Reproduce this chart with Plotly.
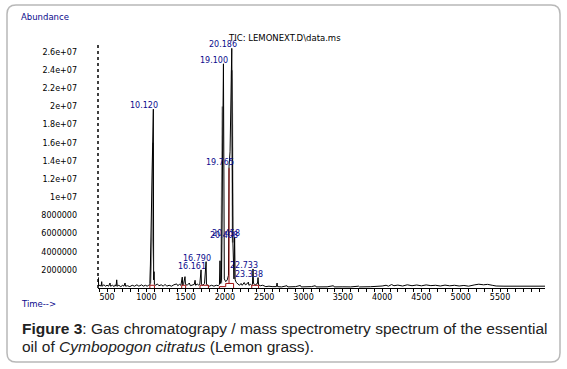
import plotly.graph_objects as go

# ---------------- data (scan number, abundance in millions) ----------------
scan = [385, 389, 393, 410, 425, 432, 437, 460, 480, 500, 520, 538, 544, 570, 590, 605, 615, 623, 630,
        650, 675, 700, 715, 729, 736, 760, 790, 820, 850, 880, 905, 941, 960, 990, 1010, 1030,
        1047, 1089, 1093, 1098, 1103, 1120, 1140, 1160, 1190, 1215, 1238, 1260, 1290, 1320, 1350,
        1386, 1400, 1420, 1440, 1457, 1463, 1475, 1492, 1498, 1520, 1547, 1560, 1590, 1610, 1620,
        1627, 1650, 1665, 1680, 1696, 1701, 1720, 1740, 1760, 1765, 1780, 1800, 1830, 1860, 1890,
        1915, 1930, 1937, 1942, 1955, 1981, 1992, 2010, 2030, 2045, 2052, 2065, 2087, 2100, 2106,
        2115, 2123, 2130, 2145, 2165, 2185, 2205, 2220, 2245, 2260, 2280, 2298, 2305, 2325, 2340,
        2350, 2357, 2363, 2375, 2390, 2405, 2414, 2421, 2428, 2450, 2480, 2520, 2560, 2600, 2640,
        2655, 2663, 2670, 2720, 2790, 2800, 2900, 2960, 2970, 3100, 3150, 3160, 3300, 3380, 3390,
        3500, 3600, 3700, 3710, 3850, 3950, 4000, 4050, 4080, 4120, 4150, 4200, 4260, 4320, 4380,
        4440, 4500, 4560, 4620, 4680, 4740, 4800, 4860, 4920, 4980, 5040, 5100, 5180, 5230, 5290,
        5340, 5400, 5450, 5550, 5700, 5850, 6000, 6072]
abund = [0.2, 1.15, 0.25, 0.3, 0.2, 0.7, 0.2, 0.35, 0.2, 0.3, 0.2, 0.55, 0.2, 0.3, 0.15, 0.35, 0.2, 0.9, 0.2,
         0.3, 0.15, 0.3, 0.2, 0.55, 0.2, 0.25, 0.15, 0.3, 0.2, 0.35, 0.2, 0.35, 0.2, 0.3, 0.2, 0.3,
         0.35, 19.7, 0.9, 1.8, 0.4, 0.3, 0.45, 0.25, 0.35, 0.2, 0.4, 0.2, 0.3, 0.2, 0.35,
         0.45, 0.25, 0.4, 0.3, 1.2, 0.3, 0.5, 1.25, 0.4, 0.3, 0.55, 0.25, 0.35, 0.4, 0.85,
         0.3, 0.45, 0.3, 0.4, 2.0, 0.4, 0.3, 0.5, 2.9, 0.4, 0.3, 0.2, 0.3, 0.2, 0.3,
         0.25, 0.4, 3.0, 0.5, 0.8, 24.7, 1.0, 0.7, 0.9, 1.4, 13.4, 15.0, 26.4, 5.4, 1.2,
         1.0, 5.6, 0.9, 0.6, 0.4, 0.3, 0.5, 0.3, 0.6, 0.35, 0.45, 0.65, 0.3, 0.4, 0.3,
         0.4, 2.1, 0.5, 0.45, 0.3, 0.5, 0.5, 1.15, 0.35, 0.25, 0.3, 0.15, 0.2, 0.15, 0.2,
         0.15, 0.55, 0.15, 0.12, 0.25, 0.12, 0.15, 0.28, 0.12, 0.15, 0.25, 0.12, 0.13, 0.25, 0.12,
         0.13, 0.12, 0.2, 0.12, 0.14, 0.16, 0.22, 0.3, 0.2, 0.38, 0.25, 0.32, 0.22, 0.35, 0.25,
         0.33, 0.24, 0.34, 0.26, 0.3, 0.22, 0.32, 0.24, 0.3, 0.22, 0.28, 0.2, 0.35, 0.42, 0.35,
         0.4, 0.3, 0.22, 0.2, 0.22, 0.2, 0.2, 0.2]

# grey flank overlays of the major peaks
flank_scan = [1050, 1075, 1085, None, 1952, 1962, 1970, None, 2088, 2096, 2100]
flank_abund = [0.5, 6.0, 16.0, None, 0.5, 12.0, 20.0, None, 24.0, 12.0, 5.0]

# red integration markers
integ_scan = [1045, 1045, 1103, 1103, None, 1450, 1450, 1500, 1500, None, 1683, 1683, 1790, 1790, None,
              1929, 1929, 2010, 2010, 2110, 2110, None, 2052, 2052, None, 2341, 2341, 2428, 2428]
integ_abund = [0.0, 0.3, 0.3, 0.0, None, 0.0, 0.3, 0.3, 0.0, None, 0.0, 0.3, 0.3, 0.0, None,
               0.0, 0.15, 0.15, 0.5, 0.5, 0.0, None, 0.5, 13.2, None, 0.0, 0.3, 0.3, 0.0]

# peak labels (retention time, min)
peak_labels = ["10.120", "16.161", "16.790", "19.100", "19.765", "20.186", "20.408", "20.458", "22.733", "23.338"]
peak_scan = [1089, 1696, 1760, 1981, 2052, 2087, 2100, 2123, 2357, 2421]
peak_abund = [19.7, 2.0, 2.9, 24.7, 13.4, 26.4, 5.4, 5.6, 2.1, 1.15]

x_ticks = [500, 1000, 1500, 2000, 2500, 3000, 3500, 4000, 4500, 5000, 5500]
y_ticks = [2e6, 4e6, 6e6, 8e6, 1e7, 1.2e7, 1.4e7, 1.6e7, 1.8e7, 2e7, 2.2e7, 2.4e7, 2.6e7]
y_tick_text = ["2000000", "4000000", "6000000", "8000000", "1e+07", "1.2e+07", "1.4e+07",
               "1.6e+07", "1.8e+07", "2e+07", "2.2e+07", "2.4e+07", "2.6e+07"]

M = 1e6
def scale(v):
    return [None if a is None else a * M for a in v]

# ---------------- geometry helpers (layout only) ----------------
W, H = 567, 369
L, R, T, B = 98, 22, 42, 81
PW, PH = W - L - R, H - T - B
def px(x):
    return (x - L) / PW
def py(y):
    return (H - B - y) / PH

SMALL = "DejaVu Sans"
NAVY = "#0a0a8c"

fig = go.Figure()
fig.add_trace(go.Scatter(x=flank_scan, y=scale(flank_abund), mode="lines",
                         line=dict(color="#8c8c8c", width=2), hoverinfo="skip", showlegend=False))
fig.add_trace(go.Scatter(x=scan, y=scale(abund), mode="lines",
                         line=dict(color="black", width=1), showlegend=False))
fig.add_trace(go.Scatter(x=integ_scan, y=scale(integ_abund), mode="lines",
                         line=dict(color="#a01010", width=1), hoverinfo="skip", showlegend=False))

for lab, xs, ys in zip(peak_labels, peak_scan, peak_abund):
    fig.add_annotation(x=xs, y=ys * M, text=lab, showarrow=False, xanchor="right", yanchor="bottom",
                       xshift=6, yshift=-2, borderpad=0, font=dict(family=SMALL, size=8, color=NAVY))

fig.add_annotation(xref="paper", yref="paper", x=px(227), y=py(38), text="TIC: LEMONEXT.D\\data.ms",
                   showarrow=False, xanchor="left", yanchor="middle", borderpad=0,
                   font=dict(family=SMALL, size=8.5, color="black"))
fig.add_annotation(xref="paper", yref="paper", x=px(20), y=py(17), text="Abundance",
                   showarrow=False, xanchor="left", yanchor="middle", borderpad=0,
                   font=dict(family=SMALL, size=8.5, color=NAVY))
fig.add_annotation(xref="paper", yref="paper", x=px(20), y=py(304), text="Time-->",
                   showarrow=False, xanchor="left", yanchor="middle", borderpad=0,
                   font=dict(family=SMALL, size=8.5, color=NAVY))

CAP = "Liberation Sans, Arial, sans-serif"
fig.add_annotation(xref="paper", yref="paper", x=px(21), y=py(328),
                   text="<b>Figure 3</b>: Gas chromatograpy / mass spectrometry spectrum of the essential",
                   showarrow=False, xanchor="left", yanchor="middle", borderpad=0,
                   font=dict(family=CAP, size=15.5, color="#222"))
fig.add_annotation(xref="paper", yref="paper", x=px(21), y=py(346),
                   text="oil of <i>Cymbopogon citratus</i> (Lemon grass).",
                   showarrow=False, xanchor="left", yanchor="middle", borderpad=0,
                   font=dict(family=CAP, size=15.5, color="#222"))

# dotted y axis line
fig.add_shape(type="line", xref="paper", yref="paper", x0=0, x1=0, y0=0, y1=1,
              line=dict(color="black", width=1.5, dash="dot"))

# rounded border
x0, y0, x1, y1, r = 7, 5, 560, 362, 9
path = (f"M {px(x0 + r)} {py(y0)} L {px(x1 - r)} {py(y0)} Q {px(x1)} {py(y0)} {px(x1)} {py(y0 + r)} "
        f"L {px(x1)} {py(y1 - r)} Q {px(x1)} {py(y1)} {px(x1 - r)} {py(y1)} "
        f"L {px(x0 + r)} {py(y1)} Q {px(x0)} {py(y1)} {px(x0)} {py(y1 - r)} "
        f"L {px(x0)} {py(y0 + r)} Q {px(x0)} {py(y0)} {px(x0 + r)} {py(y0)} Z")
fig.add_shape(type="path", xref="paper", yref="paper", path=path,
              line=dict(color="#b8b8b8", width=1.5))

fig.update_layout(
    width=W, height=H, margin=dict(l=L, r=R, t=T, b=B, autoexpand=False),
    paper_bgcolor="white", plot_bgcolor="white",
    xaxis=dict(range=[385, 6072], showgrid=False, zeroline=False, showline=True, automargin=False,
               linecolor="black", linewidth=1, ticks="outside", ticklen=3, tickcolor="black",
               tickvals=x_ticks, ticktext=[str(v) for v in x_ticks], ticklabelstandoff=-2,
               tickfont=dict(family=SMALL, size=8, color="black"),
               minor=dict(tick0=0, dtick=100, ticks="outside", ticklen=3, tickcolor="black")),
    yaxis=dict(range=[0, 27.1e6], showgrid=False, zeroline=False, showline=False, automargin=False,
               ticks="", tickvals=y_ticks, ticktext=y_tick_text, ticklabelstandoff=20,
               tickfont=dict(family=SMALL, size=8, color="black")),
)

fig.write_html("out.html", config={"displayModeBar": False},
               post_script="document.body.style.margin='0';document.body.style.padding='0';")
